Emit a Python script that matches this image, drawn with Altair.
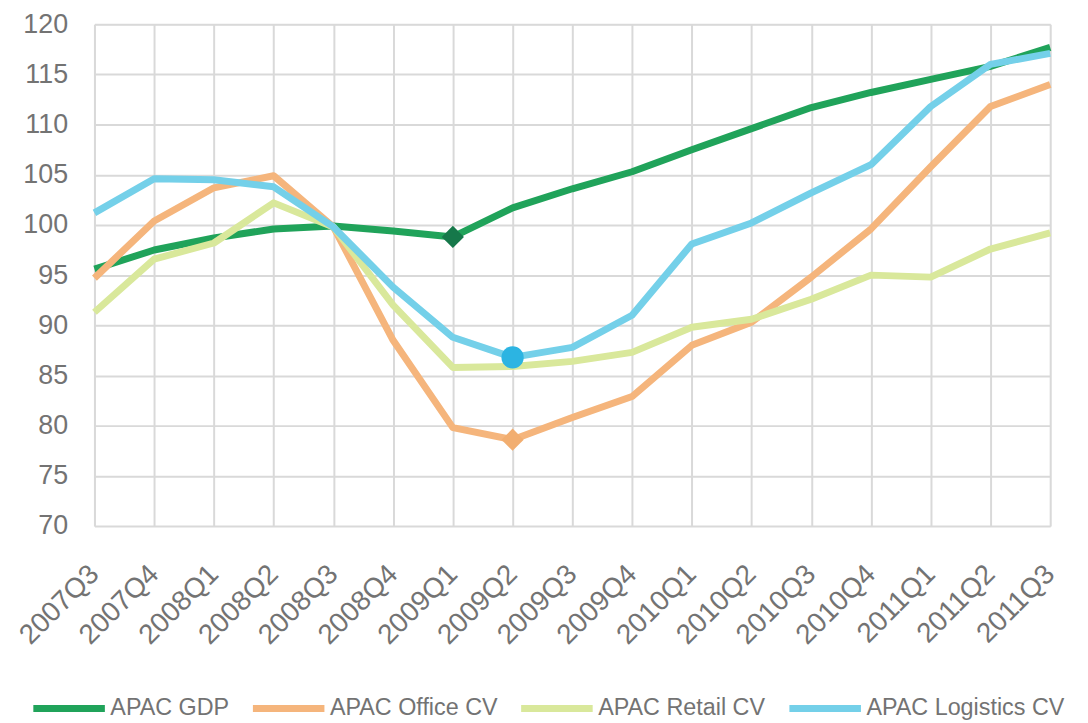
import altair as alt
import pandas as pd

quarters = ["2007Q3", "2007Q4", "2008Q1", "2008Q2", "2008Q3", "2008Q4", "2009Q1", "2009Q2",
            "2009Q3", "2009Q4", "2010Q1", "2010Q2", "2010Q3", "2010Q4", "2011Q1", "2011Q2", "2011Q3"]
gdp = [95.6, 97.5, 98.7, 99.6, 99.9, 99.4, 98.8, 101.7, 103.6, 105.3, 107.5, 109.6, 111.7, 113.2, 114.5, 115.8, 117.7]
office = [94.7, 100.4, 103.7, 104.9, 99.8, 88.5, 79.8, 78.6, 80.8, 82.9, 88.0, 90.3, 94.8, 99.6, 105.8, 111.8, 114.0]
retail = [91.3, 96.6, 98.2, 102.2, 99.8, 92.0, 85.8, 85.9, 86.4, 87.3, 89.8, 90.6, 92.6, 95.0, 94.8, 97.6, 99.2]
logistics = [101.2, 104.6, 104.5, 103.8, 99.8, 93.8, 88.8, 86.8, 87.8, 91.0, 98.1, 100.2, 103.2, 106.0, 111.8, 116.0, 117.1]

series_names = ["APAC GDP", "APAC Office CV", "APAC Retail CV", "APAC Logistics CV"]
series_colors = ["#20a35a", "#f5b57c", "#d9e89b", "#74d0e9"]

marker_series = ["APAC GDP", "APAC Office CV", "APAC Logistics CV"]
marker_quarters = ["2009Q1", "2009Q2", "2009Q2"]
marker_values = [98.8, 78.6, 86.8]
marker_shapes = ["diamond", "diamond", "circle"]
marker_colors = ["#16784a", "#f2ae70", "#2cb4e2"]

rows = []
for name, vals in zip(series_names, [gdp, office, retail, logistics]):
    for i, (q, v) in enumerate(zip(quarters, vals)):
        rows.append({"quarter": q, "value": v, "series": name, "order": i})
df = pd.DataFrame(rows)

mk = pd.DataFrame({"quarter": marker_quarters, "value": marker_values, "series": marker_series,
                   "shape": marker_shapes, "mcolor": marker_colors})

FONT = "Liberation Sans"
TXT = "#737373"

x_enc = alt.X("quarter:N", sort=quarters, scale=alt.Scale(type="point", padding=0),
              axis=alt.Axis(title=None, labelAngle=-45, labelFontSize=28, labelColor=TXT,
                            labelFont=FONT, grid=True, gridColor="#d9d9d9", gridWidth=2,
                            domain=False, ticks=False, labelPadding=34, labelOffset=-10))
y_enc = alt.Y("value:Q", scale=alt.Scale(domain=[70, 120], nice=False, zero=False),
              axis=alt.Axis(title=None, values=list(range(70, 121, 5)), labelFontSize=27,
                            labelColor=TXT, labelFont=FONT, grid=True, gridColor="#d9d9d9",
                            gridWidth=2, domain=False, ticks=False, labelPadding=27))

lines = alt.Chart(df).mark_line(strokeWidth=7, strokeJoin="round").encode(
    x=x_enc, y=y_enc,
    color=alt.Color("series:N", sort=series_names,
                    scale=alt.Scale(domain=series_names, range=series_colors),
                    legend=alt.Legend(title=None, orient="none", legendX=-65, legendY=649,
                                      direction="horizontal", columns=4, symbolType="stroke",
                                      symbolSize=5184, symbolStrokeWidth=7, labelFontSize=23.5,
                                      labelColor=TXT, labelFont=FONT, columnPadding=9,
                                      labelOffset=2, labelLimit=300)),
    order="order:Q",
    detail="series:N",
)

markers = alt.Chart(mk).mark_point(filled=True, opacity=1, size=500).encode(
    x=alt.X("quarter:N", sort=quarters),
    y="value:Q",
    shape=alt.Shape("shape:N", scale=None),
    color=alt.Color("mcolor:N", scale=None),
)

chart = alt.layer(lines, markers).properties(
    width=962, height=505,
    autosize=alt.AutoSizeParams(type="none"),
    padding={"left": 87, "top": 14, "right": 30, "bottom": 201},
).configure_view(stroke=None).configure(background="white")

chart.save("out.html", embed_options={"renderer": "svg", "actions": False})
